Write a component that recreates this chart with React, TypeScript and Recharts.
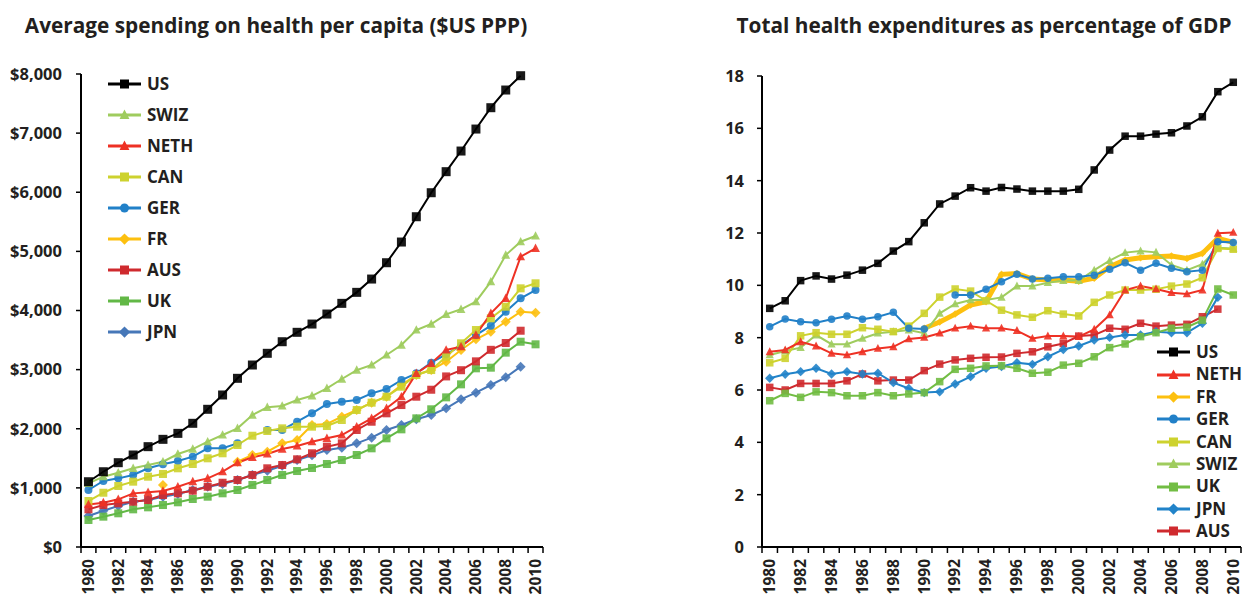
import React from 'react';
import { LineChart, Line, XAxis, YAxis, Legend } from 'recharts';

const years = [
  1980, 1981, 1982, 1983, 1984, 1985, 1986, 1987, 1988, 1989, 1990, 1991, 1992, 1993, 1994, 1995,
  1996, 1997, 1998, 1999, 2000, 2001, 2002, 2003, 2004, 2005, 2006, 2007, 2008, 2009, 2010,
];

// per capita spending, $US PPP
const usSpend = [1104, 1273, 1426, 1556, 1697, 1821, 1922, 2092, 2329, 2571, 2853, 3078, 3276, 3472, 3631, 3771, 3940, 4121, 4307, 4532, 4808, 5158, 5586, 5992, 6348, 6697, 7069, 7430, 7729, 7971, null];
const swizSpend = [1077, 1189, 1257, 1331, 1387, 1443, 1573, 1657, 1781, 1894, 2007, 2232, 2362, 2385, 2486, 2557, 2684, 2841, 2993, 3078, 3247, 3416, 3670, 3771, 3935, 4020, 4149, 4487, 4938, 5163, 5260];
const nethSpend = [720, 750, 806, 907, 925, 947, 1020, 1105, 1161, 1274, 1426, 1517, 1573, 1657, 1708, 1781, 1838, 1894, 2035, 2176, 2346, 2542, 2937, 3107, 3332, 3388, 3585, 3952, 4206, 4910, 5052];
const canSpend = [778, 918, 1032, 1105, 1189, 1235, 1331, 1404, 1500, 1585, 1725, 1882, 1962, 2007, 2035, 2035, 2046, 2148, 2317, 2441, 2542, 2711, 2909, 2993, 3219, 3445, 3670, 3868, 4064, 4375, 4460];
const gerSpend = [964, 1116, 1161, 1218, 1331, 1398, 1455, 1528, 1669, 1669, 1753, null, 1979, 1979, 2119, 2261, 2418, 2457, 2486, 2599, 2672, 2824, 2937, 3117, 3259, 3405, 3585, 3743, 3980, 4206, 4346];
const frSpend = [null, null, null, null, null, 1049, null, null, null, null, 1443, 1556, 1612, 1753, 1810, 2063, 2080, 2204, 2317, 2441, 2542, 2740, 2909, 2993, 3134, 3332, 3513, 3641, 3810, 3980, 3963];
const ausSpend = [637, 710, 739, 766, 795, 879, 908, 952, 1020, 1087, 1133, 1218, 1331, 1387, 1483, 1585, 1697, 1753, 1979, 2119, 2261, 2401, 2542, 2660, 2885, 2990, 3140, 3335, 3450, 3658, null];
const ukSpend = [457, 513, 570, 637, 671, 710, 756, 812, 851, 908, 964, 1049, 1133, 1218, 1285, 1336, 1404, 1471, 1556, 1669, 1838, 1990, 2176, 2329, 2531, 2751, 3022, 3033, 3287, 3472, 3428];
const jpnSpend = [524, 614, 693, 766, 795, 851, 896, 964, 1020, 1065, 1133, 1218, 1290, 1375, 1471, 1550, 1640, 1680, 1753, 1849, 1979, 2063, 2160, 2232, 2346, 2498, 2610, 2740, 2870, 3050, null];

// total health expenditure, % of GDP
const usGdp = [9.12, 9.41, 10.18, 10.36, 10.24, 10.39, 10.58, 10.84, 11.31, 11.67, 12.39, 13.11, 13.41, 13.73, 13.6, 13.74, 13.68, 13.6, 13.6, 13.6, 13.67, 14.41, 15.17, 15.7, 15.7, 15.78, 15.83, 16.09, 16.44, 17.4, 17.76];
const nethGdp = [7.46, 7.53, 7.84, 7.68, 7.4, 7.34, 7.46, 7.59, 7.65, 7.95, 8.01, 8.17, 8.36, 8.44, 8.36, 8.36, 8.27, 7.97, 8.06, 8.06, 8.04, 8.32, 8.87, 9.82, 9.97, 9.86, 9.72, 9.67, 9.82, 11.99, 12.02];
const frGdp = [null, null, null, null, null, null, null, null, null, null, 8.36, 8.6, 8.9, 9.25, 9.37, 10.42, 10.45, 10.24, 10.2, 10.2, 10.16, 10.27, 10.71, 10.97, 11.05, 11.09, 11.12, 11.03, 11.22, 11.8, 11.64];
const gerGdp = [8.42, 8.71, 8.61, 8.57, 8.7, 8.83, 8.7, 8.8, 8.97, 8.36, 8.33, null, 9.63, 9.63, 9.85, 10.14, 10.42, 10.24, 10.27, 10.33, 10.33, 10.39, 10.61, 10.86, 10.58, 10.84, 10.65, 10.52, 10.58, 11.67, 11.64];
const canGdp = [7.04, 7.21, 8.07, 8.19, 8.13, 8.13, 8.38, 8.32, 8.23, 8.44, 8.93, 9.55, 9.86, 9.78, 9.41, 9.05, 8.87, 8.78, 9.03, 8.9, 8.83, 9.35, 9.63, 9.82, 9.82, 9.85, 9.97, 10.05, 10.29, 11.41, 11.38];
const swizGdp = [7.34, 7.49, 7.62, 8.1, 7.75, 7.75, 7.97, 8.17, 8.23, 8.29, 8.17, 8.93, 9.29, 9.44, 9.44, 9.54, 9.97, 9.97, 10.1, 10.18, 10.18, 10.58, 10.94, 11.25, 11.31, 11.26, 10.78, 10.58, 10.81, 11.44, 11.41];
const ukGdp = [5.59, 5.87, 5.72, 5.93, 5.9, 5.78, 5.78, 5.9, 5.78, 5.85, 5.9, 6.32, 6.79, 6.83, 6.92, 6.93, 6.83, 6.64, 6.68, 6.95, 7.02, 7.27, 7.62, 7.76, 8.04, 8.19, 8.36, 8.4, 8.67, 9.86, 9.63];
const jpnGdp = [6.45, 6.6, 6.7, 6.83, 6.61, 6.7, 6.61, 6.64, 6.28, 6.06, 5.9, 5.93, 6.23, 6.51, 6.83, 6.9, 7.04, 6.98, 7.27, 7.55, 7.68, 7.91, 8.01, 8.1, 8.1, 8.23, 8.19, 8.19, 8.55, 9.54, null];
const ausGdp = [6.1, 6.0, 6.25, 6.25, 6.25, 6.35, 6.61, 6.35, 6.38, 6.38, 6.74, 6.99, 7.15, 7.21, 7.25, 7.26, 7.4, 7.46, 7.65, 7.78, 8.06, 8.1, 8.36, 8.32, 8.55, 8.44, 8.48, 8.51, 8.8, 9.09, null];

const spendTicks = [0, 1000, 2000, 3000, 4000, 5000, 6000, 7000, 8000];
const gdpTicks = [0, 2, 4, 6, 8, 10, 12, 14, 16, 18];

const FONT = '"Open Sans", "DejaVu Sans", sans-serif';
const INK = '#231f20';

type Shape = 'square' | 'triangle' | 'circle' | 'diamond';
interface Series {
  name: string;
  color: string;
  shape: Shape;
  values: (number | null)[];
  width?: number;
  size?: number;
}

const leftSeries: Series[] = [
  { name: 'US', color: '#000000', shape: 'square', values: usSpend, size: 9 },
  { name: 'SWIZ', color: '#9fcc5e', shape: 'triangle', values: swizSpend },
  { name: 'NETH', color: '#ee3124', shape: 'triangle', values: nethSpend },
  { name: 'CAN', color: '#cdd22e', shape: 'square', values: canSpend },
  { name: 'GER', color: '#2180c8', shape: 'circle', values: gerSpend },
  { name: 'FR', color: '#fdc00f', shape: 'diamond', values: frSpend },
  { name: 'AUS', color: '#cf2a2e', shape: 'square', values: ausSpend },
  { name: 'UK', color: '#62b846', shape: 'square', values: ukSpend },
  { name: 'JPN', color: '#4677b8', shape: 'diamond', values: jpnSpend },
];

const rightSeries: Series[] = [
  { name: 'US', color: '#000000', shape: 'square', values: usGdp },
  { name: 'NETH', color: '#ee3124', shape: 'triangle', values: nethGdp },
  { name: 'FR', color: '#fdc00f', shape: 'diamond', values: frGdp, width: 5, size: 6 },
  { name: 'GER', color: '#2180c8', shape: 'circle', values: gerGdp },
  { name: 'CAN', color: '#cdd22e', shape: 'square', values: canGdp },
  { name: 'SWIZ', color: '#9fcc5e', shape: 'triangle', values: swizGdp },
  { name: 'UK', color: '#72bd44', shape: 'square', values: ukGdp },
  { name: 'JPN', color: '#2183c9', shape: 'diamond', values: jpnGdp },
  { name: 'AUS', color: '#cf2a2e', shape: 'square', values: ausGdp },
];

const toRows = (list: Series[]) =>
  years.map((year, i) => {
    const row: Record<string, number | null> = { year };
    list.forEach((s) => (row[s.name] = s.values[i]));
    return row;
  });

const spendData = toRows(leftSeries);
const gdpData = toRows(rightSeries);

const Marker = ({ shape, x, y, size, color }: { shape: Shape; x: number; y: number; size: number; color: string }) => {
  const h = size / 2;
  if (shape === 'square') return <rect x={x - h} y={y - h} width={size} height={size} fill={color} />;
  if (shape === 'circle') return <circle cx={x} cy={y} r={h} fill={color} />;
  if (shape === 'triangle') {
    const pts = `${x},${y - h * 1.2} ${x - h * 1.1},${y + h * 0.9} ${x + h * 1.1},${y + h * 0.9}`;
    return <polygon points={pts} fill={color} />;
  }
  const d = h * 1.25;
  return <polygon points={`${x},${y - d} ${x + d},${y} ${x},${y + d} ${x - d},${y}`} fill={color} />;
};

const makeDot = (s: Series, size: number) => (props: any) => {
  const { cx, cy, index, value } = props;
  const k = `${s.name}-${index}`;
  if (value == null || cx == null || cy == null || Number.isNaN(cy)) return <g key={k} />;
  return (
    <g key={k} opacity={0.9}>
      <Marker shape={s.shape} x={cx} y={cy} size={size} color={s.color} />
    </g>
  );
};

const YearTick = (props: any) => {
  const { x, y, payload, bw } = props;
  const year = payload.value as number;
  const ty = y + 12;
  return (
    <g>
      <line x1={x - bw / 2} x2={x - bw / 2} y1={y} y2={y + 6} stroke="#000" strokeWidth={1.5} />
      {year === years[years.length - 1] && (
        <line x1={x + bw / 2} x2={x + bw / 2} y1={y} y2={y + 6} stroke="#000" strokeWidth={1.5} />
      )}
      {year % 2 === 0 && (
        <text
          x={x}
          y={ty}
          dy="0.34em"
          textAnchor="end"
          transform={`rotate(-90 ${x} ${ty})`}
          fill={INK}
          fontFamily={FONT}
          fontWeight={700}
          fontSize={15.5}
        >
          {year}
        </text>
      )}
    </g>
  );
};

const LegendBox = ({ list, rowH }: { list: Series[]; rowH: number }) => (
  <div>
    {list.map((s) => (
      <div key={s.name} style={{ display: 'flex', alignItems: 'center', height: rowH }}>
        <svg width={33} height={14} style={{ display: 'block' }}>
          <line x1={0} x2={33} y1={7} y2={7} stroke={s.color} strokeWidth={3} />
          <Marker shape={s.shape} x={16.5} y={7} size={9} color={s.color} />
        </svg>
        <span
          style={{
            marginLeft: 6,
            fontFamily: FONT,
            fontWeight: 700,
            fontSize: 17,
            color: INK,
            lineHeight: `${rowH}px`,
          }}
        >
          {s.name}
        </span>
      </div>
    ))}
  </div>
);

const titleStyle: React.CSSProperties = {
  position: 'absolute',
  top: 11,
  fontFamily: FONT,
  fontWeight: 700,
  fontSize: 20.8,
  lineHeight: '28px',
  color: INK,
  textAlign: 'center',
  whiteSpace: 'nowrap',
};

const tickStyle = { fill: INK, fontFamily: FONT, fontWeight: 700, fontSize: 16.5 };

export default function App() {
  const leftBw = 462 / years.length;
  const rightBw = 479 / years.length;

  return (
    <div style={{ position: 'absolute', left: 0, top: 0, width: 1244, height: 597, background: '#fff' }}>
      <div style={{ ...titleStyle, left: 0, width: 552 }}>Average spending on health per capita ($US PPP)</div>
      <div style={{ ...titleStyle, left: 724, width: 520 }}>Total health expenditures as percentage of GDP</div>

      <div style={{ position: 'absolute', left: 0, top: 0 }}>
        <LineChart width={560} height={597} data={spendData} margin={{ top: 74, right: 17, bottom: 0, left: 0 }}>
          <XAxis
            dataKey="year"
            scale="band"
            interval={0}
            height={50}
            tickSize={0}
            tickMargin={0}
            tickLine={false}
            axisLine={{ stroke: '#000', strokeWidth: 2 }}
            tick={(p: any) => <YearTick {...p} bw={leftBw} />}
          />
          <YAxis
            width={81}
            domain={[0, 8000]}
            ticks={spendTicks}
            interval={0}
            tickSize={5}
            tickMargin={14}
            tickLine={{ stroke: '#000', strokeWidth: 1.5 }}
            axisLine={{ stroke: '#000', strokeWidth: 2 }}
            tick={tickStyle}
            tickFormatter={(v: number) => `$${v.toLocaleString('en-US')}`}
          />
          <Legend
            layout="vertical"
            align="center"
            verticalAlign="middle"
            wrapperStyle={{ left: 108, top: 68, width: 120 }}
            content={() => <LegendBox list={leftSeries} rowH={31} />}
          />
          {[...leftSeries].reverse().map((s) => (
            <Line
              key={s.name}
              dataKey={s.name}
              stroke={s.color}
              strokeWidth={s.width ?? 2}
              dot={makeDot(s, s.size ?? 8)}
              activeDot={false}
              isAnimationActive={false}
            />
          ))}
        </LineChart>
      </div>

      <div style={{ position: 'absolute', left: 698, top: 0 }}>
        <LineChart width={546} height={597} data={gdpData} margin={{ top: 76, right: 3, bottom: 0, left: 0 }}>
          <XAxis
            dataKey="year"
            scale="band"
            interval={0}
            height={50}
            tickSize={0}
            tickMargin={0}
            tickLine={false}
            axisLine={{ stroke: '#000', strokeWidth: 2 }}
            tick={(p: any) => <YearTick {...p} bw={rightBw} />}
          />
          <YAxis
            width={64}
            domain={[0, 18]}
            ticks={gdpTicks}
            interval={0}
            tickSize={5}
            tickMargin={13}
            tickLine={{ stroke: '#000', strokeWidth: 1.5 }}
            axisLine={{ stroke: '#000', strokeWidth: 2 }}
            tick={tickStyle}
          />
          <Legend
            layout="vertical"
            align="center"
            verticalAlign="middle"
            wrapperStyle={{ left: 459, top: 341, width: 85 }}
            content={() => <LegendBox list={rightSeries} rowH={22.4} />}
          />
          {[rightSeries[2], ...rightSeries.filter((s) => s.name !== 'FR').reverse()].map((s) => (
            <Line
              key={s.name}
              dataKey={s.name}
              stroke={s.color}
              strokeWidth={s.width ?? 2}
              dot={makeDot(s, s.size ?? 7.5)}
              activeDot={false}
              isAnimationActive={false}
            />
          ))}
        </LineChart>
      </div>
    </div>
  );
}
